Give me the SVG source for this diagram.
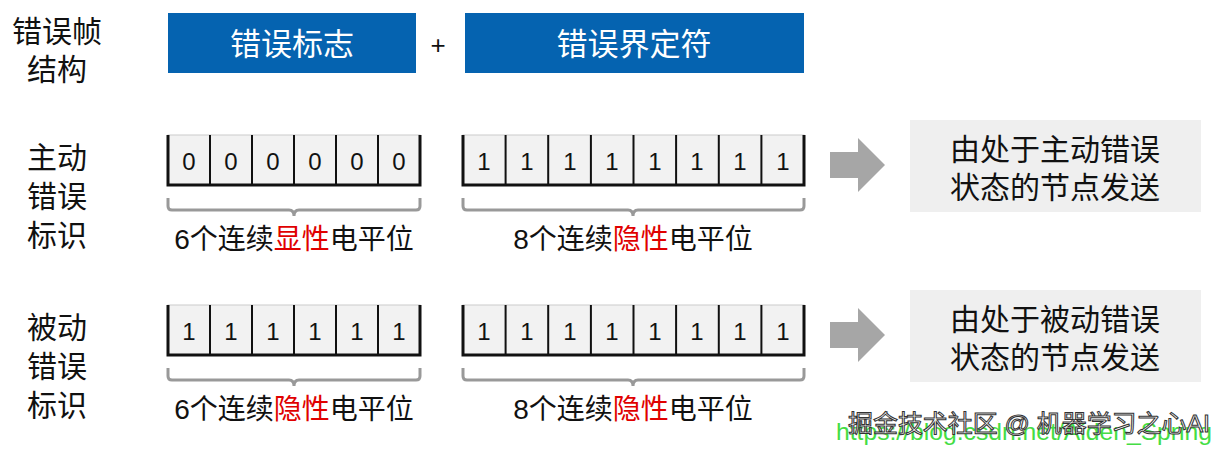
<svg xmlns="http://www.w3.org/2000/svg" width="1222" height="452" viewBox="0 0 1222 452">
<style>
text{font-family:"Liberation Sans","Noto Sans CJK SC",sans-serif;fill:#111}
.lab{font-size:30px}
.hd{font-size:31px;fill:#fff;text-anchor:middle}
.bit{font-size:24px;text-anchor:middle}
.cap{font-size:28px;text-anchor:middle}
.red{fill:#e00000}
.cell{fill:#f2f2f2;stroke:#ccc;stroke-width:1}
.frame{fill:none;stroke:#111;stroke-width:3}
.div{stroke:#111;stroke-width:2}
.brace{fill:none;stroke:#999;stroke-width:3}
.note{fill:#efefef}
.arr{fill:#a6a6a6}
</style>
<rect width="1222" height="452" fill="#fff"/>
<g id="titles">
<text class="lab" x="12" y="42">错误帧</text><text class="lab" x="27" y="80">结构</text>
<text class="lab" x="27" y="168">主动</text><text class="lab" x="27" y="207">错误</text><text class="lab" x="27" y="246">标识</text>
<text class="lab" x="27" y="338">被动</text><text class="lab" x="27" y="377">错误</text><text class="lab" x="27" y="416">标识</text>
</g>
<g id="header">
<rect x="168" y="13" width="248" height="60" fill="#0563b0"/><text class="hd" x="292" y="55">错误标志</text>
<text x="438" y="54" font-size="26" text-anchor="middle">+</text>
<rect x="465" y="13" width="339" height="60" fill="#0563b0"/><text class="hd" x="634" y="55">错误界定符</text>
</g>
<g id="row1">
<rect class="cell" x="168" y="135" width="252" height="50"/>
<path class="div" d="M210 135V185M252 135V185M294 135V185M336 135V185M378 135V185"/>
<path class="frame" d="M168 135V185H420V135"/>
<g class="bit"><text x="189" y="170">0</text><text x="231" y="170">0</text><text x="273" y="170">0</text><text x="315" y="170">0</text><text x="357" y="170">0</text><text x="399" y="170">0</text></g>
<path class="brace" d="M168 198V206Q168 210 172 210H289Q294 210 294 216Q294 210 299 210H416Q420 210 420 206V198"/>
<text class="cap" x="294" y="249">6个连续<tspan class="red">显性</tspan>电平位</text>
<rect class="cell" x="463" y="135" width="341" height="50"/>
<path class="div" d="M505.6 135V185M548.2 135V185M590.9 135V185M633.5 135V185M676.1 135V185M718.8 135V185M761.4 135V185"/>
<path class="frame" d="M463 135V185H804V135"/>
<g class="bit"><text x="484" y="170">1</text><text x="527" y="170">1</text><text x="570" y="170">1</text><text x="612" y="170">1</text><text x="655" y="170">1</text><text x="697" y="170">1</text><text x="740" y="170">1</text><text x="783" y="170">1</text></g>
<path class="brace" d="M463 198V206Q463 210 467 210H628Q633 210 633 216Q633 210 638 210H800Q804 210 804 206V198"/>
<text class="cap" x="633" y="249">8个连续<tspan class="red">隐性</tspan>电平位</text>
</g>
<g id="row2">
<rect class="cell" x="168" y="305" width="252" height="50"/>
<path class="div" d="M210 305V355M252 305V355M294 305V355M336 305V355M378 305V355"/>
<path class="frame" d="M168 305V355H420V305"/>
<g class="bit"><text x="189" y="340">1</text><text x="231" y="340">1</text><text x="273" y="340">1</text><text x="315" y="340">1</text><text x="357" y="340">1</text><text x="399" y="340">1</text></g>
<path class="brace" d="M168 368V376Q168 380 172 380H289Q294 380 294 386Q294 380 299 380H416Q420 380 420 376V368"/>
<text class="cap" x="294" y="419">6个连续<tspan class="red">隐性</tspan>电平位</text>
<rect class="cell" x="463" y="305" width="341" height="50"/>
<path class="div" d="M505.6 305V355M548.2 305V355M590.9 305V355M633.5 305V355M676.1 305V355M718.8 305V355M761.4 305V355"/>
<path class="frame" d="M463 305V355H804V305"/>
<g class="bit"><text x="484" y="340">1</text><text x="527" y="340">1</text><text x="570" y="340">1</text><text x="612" y="340">1</text><text x="655" y="340">1</text><text x="697" y="340">1</text><text x="740" y="340">1</text><text x="783" y="340">1</text></g>
<path class="brace" d="M463 368V376Q463 380 467 380H628Q633 380 633 386Q633 380 638 380H800Q804 380 804 376V368"/>
<text class="cap" x="633" y="419">8个连续<tspan class="red">隐性</tspan>电平位</text>
</g>
<g id="connectors">
<path class="arr" d="M830 152H858V138L885 165L858 192V178H830Z"/>
<path class="arr" d="M830 322H858V308L885 335L858 362V348H830Z"/>
</g>
<g id="note1"><rect class="note" x="910" y="120" width="291" height="92"/>
<text class="lab" x="1055" y="160" text-anchor="middle">由处于主动错误</text><text class="lab" x="1055" y="198" text-anchor="middle">状态的节点发送</text></g>
<g id="note2"><rect class="note" x="910" y="290" width="291" height="92"/>
<text class="lab" x="1055" y="330" text-anchor="middle">由处于被动错误</text><text class="lab" x="1055" y="368" text-anchor="middle">状态的节点发送</text></g>
<g id="watermark">
<text x="836" y="440" font-size="24" textLength="376" lengthAdjust="spacingAndGlyphs" style="fill:#44dd44">https://blog.csdn.net/Aiden_Spring</text>
<text x="848" y="432" font-size="24" textLength="362" lengthAdjust="spacingAndGlyphs" style="fill:#fff;stroke:#333;stroke-width:1">掘金技术社区 @ 机器学习之心AI</text>
</g>
</svg>
